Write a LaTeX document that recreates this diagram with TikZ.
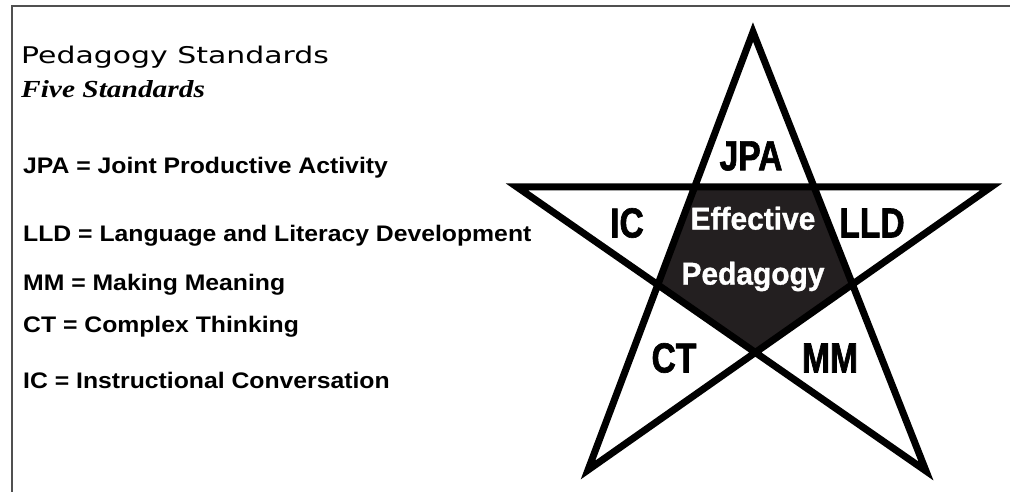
\documentclass[tikz,border=0pt]{standalone}
\usepackage{fontspec}
\setmainfont{Liberation Sans}
\newfontfamily\titlefont{DejaVu Sans}[FakeStretch=1.3]
\newfontfamily\listfont{Liberation Sans}[FakeStretch=1.1]
\newfontfamily\serifbi{Liberation Serif}[FakeStretch=1.2]
\newfontfamily\starfont{Liberation Sans}[FakeStretch=0.8,FakeBold=1.5]
\newfontfamily\corefont{Liberation Sans}[FakeStretch=0.95,FakeBold=1]
\definecolor{framegray}{RGB}{80,80,80}
\definecolor{corefill}{RGB}{35,31,32}
\usetikzlibrary{calc}

\begin{document}
\begin{tikzpicture}[x=1pt,y=-1pt]
  \tikzstyle{keyline}=[anchor=base west,inner sep=0pt,font=\listfont\bfseries\fontsize{22.5}{26}\selectfont]
  \tikzstyle{starlabel}=[inner sep=0pt,font=\starfont\bfseries\fontsize{42}{42}\selectfont]
  \tikzstyle{corelabel}=[inner sep=0pt,align=center,text=white,font=\corefont\bfseries\fontsize{31.5}{55}\selectfont]

  \useasboundingbox (0,0) rectangle (1010,492);
  \draw[framegray,line width=2pt] (1010,6.5) -- (12,6.5) -- (12,492);

  % heading and key
  \node[anchor=base west,inner sep=0pt,font=\titlefont\fontsize{23}{27}\selectfont] (title) at (21,64) {Pedagogy Standards};
  \node[anchor=base west,inner sep=0pt,font=\serifbi\bfseries\itshape\fontsize{24.5}{28}\selectfont] (subtitle) at (21,97.5) {Five Standards};
  \node[keyline] (jpakey) at (23,174) {JPA = Joint Productive Activity};
  \node[keyline] (lldkey) at (23,241) {LLD = Language and Literacy Development};
  \node[keyline] (mmkey) at (23,290) {MM = Making Meaning};
  \node[keyline] (ctkey) at (23,332) {CT = Complex Thinking};
  \node[keyline] (ickey) at (23,388) {IC = Instructional Conversation};

  % star
  \coordinate (top) at (753,32);
  \coordinate (lft) at (517,187);
  \coordinate (rgt) at (991,187);
  \coordinate (bl) at (588,470);
  \coordinate (br) at (926,471);
  \fill[corefill] (intersection of top--bl and lft--rgt) -- (intersection of top--br and lft--rgt)
    -- (intersection of top--br and rgt--bl) -- (intersection of lft--br and rgt--bl)
    -- (intersection of top--bl and lft--br) -- cycle;
  \draw[line width=7pt] (top) -- (bl) -- (rgt) -- (lft) -- (br) -- cycle;

  \node[starlabel] (jpa) at (751,156) {JPA};
  \node[starlabel] (ic) at (627,223) {IC};
  \node[starlabel] (lld) at (872,223) {LLD};
  \node[starlabel] (ct) at (674,358) {CT};
  \node[starlabel] (mm) at (830,358) {MM};
  \node[corelabel] (core) at (753,249) {Effective\\Pedagogy};
\end{tikzpicture}
\end{document}
